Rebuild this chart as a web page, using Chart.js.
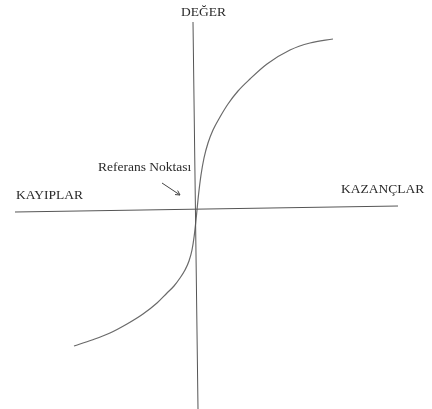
<!DOCTYPE html>
<html lang="tr">
<head>
<meta charset="utf-8">
<title>Değer Fonksiyonu</title>
<script src="https://cdn.jsdelivr.net/npm/chart.js@4/dist/chart.umd.min.js"></script>
<style>
  html, body { margin: 0; padding: 0; background: #fff; }
  #grafik { display: block; }
</style>
</head>
<body>
<canvas id="grafik" width="432" height="409"></canvas>
<script>
// Değer fonksiyonu: kazançlarda içbükey, kayıplarda dışbükey ve daha dik
const kayipX = [-123, -105, -87, -70, -54, -40, -30, -23, -17, -12, -8, -5, -2.8, -1];
const kayipY = [-136, -130, -123, -114, -104, -93, -83, -76, -68, -60, -51, -40, -26, -10];
const kazancX = [0, 1.5, 4, 7, 11, 16, 23, 31, 41, 53, 70, 93, 113, 136];
const kazancY = [0, 15, 35, 52, 67, 80, 93, 106, 119, 131, 146, 160, 167, 171];

// Eksen uçları (hafif eğik çizilmiş)
const yatayEksenX = [-182, 201];
const yatayEksenY = [-2, 4];
const dikeyEksenX = [-4, 1];
const dikeyEksenY = [188, -199];

// Referans noktası oku
const okX = [-35, -17];
const okY = [27, 15];

const etiketler = ['DEĞER', 'Referans Noktası', 'KAYIPLAR', 'KAZANÇLAR'];
const etiketX = [-16, -99, -181, 144];
const etiketY = [194, 39, 11, 17];

function noktalar(xs, ys) {
    return xs.map((x, i) => ({ x: x, y: ys[i] }));
}

const egri = noktalar(kayipX, kayipY).concat(noktalar(kazancX, kazancY));

// Yazılar ve ok başı
const yaziEklentisi = {
    id: 'yazilar',
    afterDatasetsDraw(chart) {
        const ctx = chart.ctx;
        const sx = chart.scales.x;
        const sy = chart.scales.y;
        ctx.save();
        ctx.fillStyle = '#2a2a2a';
        ctx.font = '13.5px "Liberation Serif", "Times New Roman", serif';
        ctx.textBaseline = 'alphabetic';
        ctx.textAlign = 'left';
        etiketler.forEach((t, i) => {
            ctx.fillText(t, sx.getPixelForValue(etiketX[i]), sy.getPixelForValue(etiketY[i]));
        });

        // ok başı
        const x0 = sx.getPixelForValue(okX[0]), y0 = sy.getPixelForValue(okY[0]);
        const x1 = sx.getPixelForValue(okX[1]), y1 = sy.getPixelForValue(okY[1]);
        const aci = Math.atan2(y1 - y0, x1 - x0);
        const boy = 5;
        ctx.strokeStyle = '#444';
        ctx.lineWidth = 1;
        ctx.beginPath();
        ctx.moveTo(x1 - boy * Math.cos(aci - 0.5), y1 - boy * Math.sin(aci - 0.5));
        ctx.lineTo(x1, y1);
        ctx.lineTo(x1 - boy * Math.cos(aci + 0.5), y1 - boy * Math.sin(aci + 0.5));
        ctx.stroke();
        ctx.restore();
    }
};

new Chart(document.getElementById('grafik'), {
    type: 'scatter',
    data: {
        datasets: [
            {
                data: noktalar(yatayEksenX, yatayEksenY),
                showLine: true, borderColor: '#555', borderWidth: 1, pointRadius: 0
            },
            {
                data: noktalar(dikeyEksenX, dikeyEksenY),
                showLine: true, borderColor: '#555', borderWidth: 1, pointRadius: 0
            },
            {
                data: egri,
                showLine: true, borderColor: '#6a6a6a', borderWidth: 1.2,
                pointRadius: 0, cubicInterpolationMode: 'monotone'
            },
            {
                data: noktalar(okX, okY),
                showLine: true, borderColor: '#444', borderWidth: 1, pointRadius: 0
            }
        ]
    },
    options: {
        responsive: false,
        animation: false,
        layout: { padding: 0 },
        plugins: {
            legend: { display: false },
            tooltip: { enabled: false }
        },
        scales: {
            x: { type: 'linear', display: false, min: -197, max: 235 },
            y: { type: 'linear', display: false, min: -199, max: 210 }
        }
    },
    plugins: [yaziEklentisi]
});
</script>
</body>
</html>
